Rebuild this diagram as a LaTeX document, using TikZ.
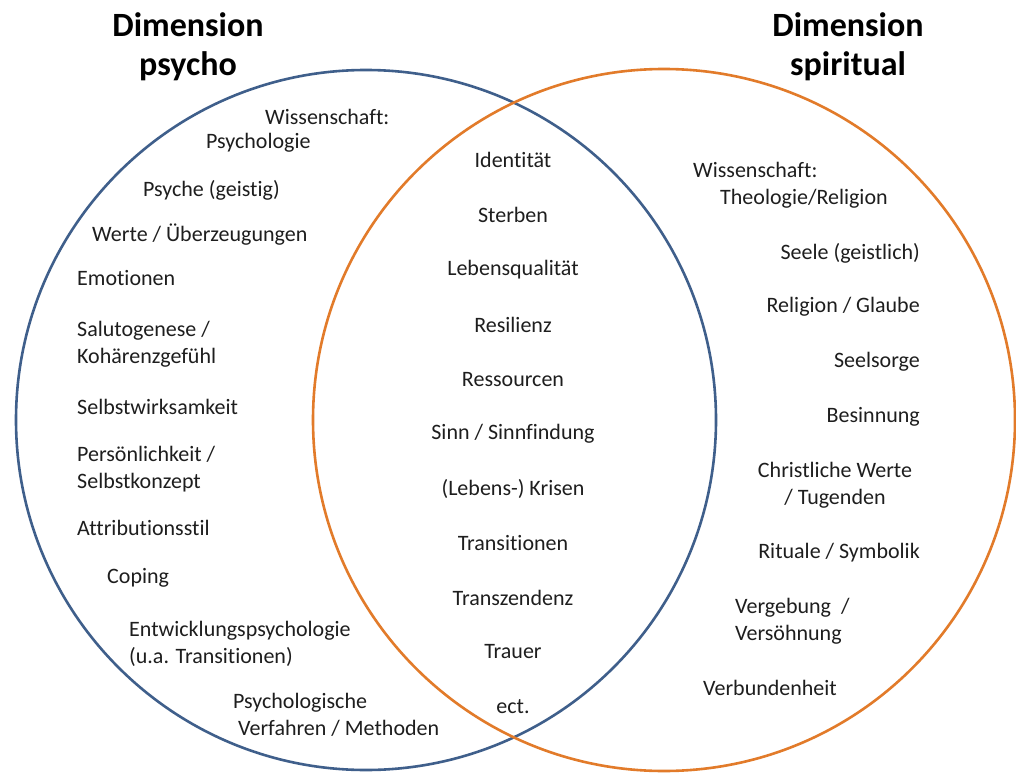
\documentclass[tikz,border=0pt]{standalone}
\usepackage{fontspec}
\setmainfont{Carlito}[Ligatures=NoCommon]
\definecolor{psyblue}{HTML}{3F5F8B}
\definecolor{spiorange}{HTML}{E27B2A}
\definecolor{txt}{HTML}{1E1E1E}
\begin{document}
\begin{tikzpicture}[x=1pt,y=-1pt,
  item/.style={font=\fontsize{22}{27}\selectfont, text=txt, inner sep=0pt},
  lft/.style={item, anchor=west, align=left},
  rgt/.style={item, anchor=east, align=right},
  ctr/.style={item, anchor=center, align=center},
  ttl/.style={font=\fontsize{34}{39}\selectfont\bfseries, text=black, inner sep=0pt, align=center, anchor=center},
  ring/.style={line width=2.6pt}]
\useasboundingbox (0,0) rectangle (1016,778);
\fill[white] (0,0) rectangle (1016,778);
% circles
\draw[ring, psyblue] (366,420) circle[radius=350];
\draw[ring, spiorange] (664,420) circle[radius=351];
% titles
\node[ttl] (tpsy) at (188,47) {Dimension\\psycho};
\node[ttl] (tspi) at (848,47) {Dimension\\spiritual};
% left (psycho)
\node[lft] (l1) at (265,117) {Wissenschaft:};
\node[lft] (l2) at (206,143) {Psychologie};
\node[lft] (l3) at (143,190) {Psyche (geistig)};
\node[lft] (l4) at (92,235) {Werte / Überzeugungen};
\node[lft] (l5) at (77,278) {Emotionen};
\node[lft] (l6) at (77,344) {Salutogenese /\\Kohärenzgefühl};
\node[lft] (l7) at (77,407) {Selbstwirksamkeit};
\node[lft] (l8) at (77,469) {Persönlichkeit /\\Selbstkonzept};
\node[lft] (l9) at (77,528) {Attributionsstil};
\node[lft] (l10) at (107,578) {Coping};
\node[lft] (l11) at (129,644) {Entwicklungspsychologie\\(u.a. Transitionen)};
\node[lft] (l12) at (233,715) {Psychologische\\\hspace*{5pt}Verfahren / Methoden};
% middle (overlap)
\node[ctr] (m1) at (513,160) {Identität};
\node[ctr] (m2) at (513,215) {Sterben};
\node[ctr] (m3) at (513,270) {Lebensqualität};
\node[ctr] (m4) at (513,325) {Resilienz};
\node[ctr] (m5) at (513,380) {Ressourcen};
\node[ctr] (m6) at (513,434) {Sinn / Sinnfindung};
\node[ctr] (m7) at (513,489) {(Lebens-) Krisen};
\node[ctr] (m8) at (513,543) {Transitionen};
\node[ctr] (m9) at (513,598) {Transzendenz};
\node[ctr] (m10) at (513,652) {Trauer};
\node[ctr] (m11) at (513,707) {ect.};
% right (spiritual)
\node[lft] (r1) at (693,185) {Wissenschaft:\\\hspace*{27pt}Theologie/Religion};
\node[rgt] (r2) at (920,253) {Seele (geistlich)};
\node[rgt] (r3) at (920,307) {Religion / Glaube};
\node[rgt] (r4) at (920,362) {Seelsorge};
\node[rgt] (r5) at (920,417) {Besinnung};
\node[ctr] (r6) at (835,485) {Christliche Werte\\/ Tugenden};
\node[rgt] (r7) at (920,553) {Rituale / Symbolik};
\node[lft] (r8) at (735,621) {Vergebung \ /\\Versöhnung};
\node[lft] (r9) at (703,688) {Verbundenheit};
\end{tikzpicture}
\end{document}
